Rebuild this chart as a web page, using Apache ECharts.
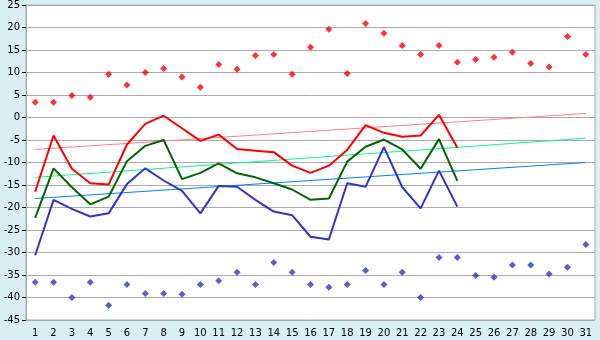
<!DOCTYPE html>
<html>
<head>
<meta charset="utf-8">
<script src="https://cdn.jsdelivr.net/npm/echarts@6/dist/echarts.min.js"></script>
<style>
  html, body { margin: 0; padding: 0; background: #daeef5; }
  #chart { width: 600px; height: 340px; }
</style>
</head>
<body>
<div id="chart"></div>
<script>
// Days of the month
const days = Array.from({ length: 31 }, (_, i) => String(i + 1));

// Daily extremes (markers)
const maxPoints = [3.4, 3.4, 4.9, 4.5, 9.6, 7.2, 10.0, 10.9, 9.0, 6.7,
  11.8, 10.7, 13.8, 14.0, 9.6, 15.6, 19.6, 9.8, 20.9, 18.7,
  16.0, 14.0, 16.0, 12.3, 12.9, 13.4, 14.5, 12.0, 11.2, 18.0, 14.0];
const minPoints = [-36.6, -36.6, -40.0, -36.6, -41.7, -37.1, -39.1, -39.1, -39.3, -37.1,
  -36.3, -34.4, -37.1, -32.2, -34.4, -37.1, -37.7, -37.1, -34.0, -37.1,
  -34.4, -40.0, -31.1, -31.1, -35.1, -35.5, -32.8, -32.8, -34.8, -33.3, -28.2];

// Daily lines (days 1–24)
const redLine = [-16.5, -4.0, -11.4, -14.6, -14.9, -6.0, -1.4, 0.4, -2.4, -5.2,
  -3.8, -7.0, -7.4, -7.7, -10.7, -12.3, -10.7, -7.2, -1.7, -3.4,
  -4.3, -4.0, 0.6, -6.7];
const greenLine = [-22.3, -11.3, -15.5, -19.3, -17.6, -9.7, -6.3, -5.0, -13.7, -12.3,
  -10.2, -12.4, -13.3, -14.6, -16.0, -18.3, -18.0, -9.8, -6.5, -4.9,
  -7.1, -11.4, -4.8, -14.1];
const blueLine = [-30.6, -18.3, -20.3, -22.0, -21.3, -14.8, -11.3, -14.0, -16.3, -21.3,
  -15.2, -15.4, -18.3, -20.9, -21.7, -26.5, -27.1, -14.6, -15.4, -6.6,
  -15.5, -20.2, -11.8, -19.8];

// Trend lines: [value on day 1, value on day 31]
const redTrend = [-7.1, 0.9];
const greenTrend = [-13.3, -4.6];
const blueTrend = [-18.0, -10.0];

// Value axis ticks
const yTicks = { min: -45, max: 25, step: 5 };

const trend = (ends, color) => ({
  type: 'line',
  data: [[days[0], ends[0]], [days[days.length - 1], ends[1]]],
  showSymbol: false,
  silent: true,
  lineStyle: { color, width: 1 },
  z: 1
});

const dataLine = (values, color) => ({
  type: 'line',
  data: values,
  showSymbol: false,
  lineStyle: { color, width: 2 },
  z: 3
});

const markers = (values, color) => ({
  type: 'scatter',
  data: values,
  symbol: 'diamond',
  symbolSize: 7,
  itemStyle: { color },
  z: 4
});

const chart = echarts.init(document.getElementById('chart'), null, { renderer: 'canvas' });
chart.setOption({
  animation: false,
  backgroundColor: '#daeef5',
  textStyle: { fontFamily: 'DejaVu Sans' },
  grid: {
    left: 26, right: 5, top: 5, bottom: 20,
    show: true, backgroundColor: '#ffffff', borderColor: '#aaaaaa', borderWidth: 1
  },
  xAxis: {
    type: 'category',
    data: days,
    boundaryGap: true,
    axisLine: { lineStyle: { color: '#aaaaaa' } },
    axisTick: { alignWithLabel: true, length: 4, lineStyle: { color: '#000000' } },
    axisLabel: { color: '#000000', fontSize: 10, margin: 8, interval: 0 },
    splitLine: { show: false }
  },
  yAxis: {
    type: 'value',
    min: yTicks.min, max: yTicks.max, interval: yTicks.step,
    axisLine: { show: true, lineStyle: { color: '#aaaaaa' } },
    axisTick: { show: true, length: 4, lineStyle: { color: '#000000' } },
    axisLabel: { color: '#000000', fontSize: 10, margin: 6 },
    splitLine: { lineStyle: { color: '#aaaaaa', width: 1 } }
  },
  series: [
    trend(redTrend, '#ff8080'),
    trend(greenTrend, '#00ff80'),
    trend(blueTrend, '#0080ff'),
    dataLine(redLine, '#ff0000'),
    dataLine(greenLine, '#006600'),
    dataLine(blueLine, '#3333cc'),
    markers(maxPoints, '#ff0000'),
    markers(minPoints, '#3333cc')
  ]
});
</script>
</body>
</html>
